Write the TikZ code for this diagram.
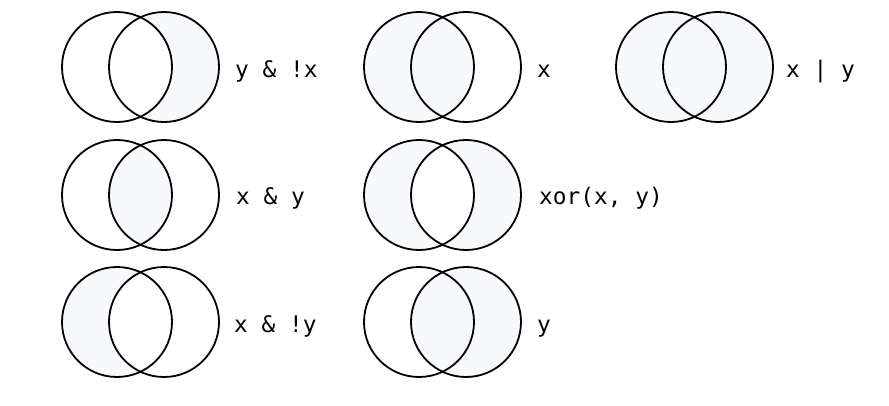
\documentclass[tikz,border=0pt]{standalone}
\usepackage{fontspec}
\newfontfamily\lblfont{DejaVu Sans Mono}
\definecolor{vfill}{RGB}{248,249,252}
\tikzset{
  ring/.style={draw=black, line width=1.8pt},
  lbl/.style={font=\lblfont\fontsize{22.8}{27}\selectfont, anchor=base west, inner sep=0pt},
}
\newcommand\vr{55}
\begin{document}
\begin{tikzpicture}[x=1pt,y=-1pt]
\useasboundingbox (0,0) rectangle (889,405);
% centres
\coordinate (aL) at (117,67);  \coordinate (aR) at (164,67);
\coordinate (bL) at (419,67);  \coordinate (bR) at (466,67);
\coordinate (cL) at (671,67);  \coordinate (cR) at (718,67);
\coordinate (dL) at (117,195); \coordinate (dR) at (164,195);
\coordinate (eL) at (419,195); \coordinate (eR) at (466,195);
\coordinate (fL) at (117,322); \coordinate (fR) at (164,322);
\coordinate (gL) at (419,322); \coordinate (gR) at (466,322);
% y & !x
\fill[vfill] (aR) circle[radius=\vr];
\fill[white] (aL) circle[radius=\vr];
% x
\fill[vfill] (bL) circle[radius=\vr];
% x | y
\fill[vfill] (cL) circle[radius=\vr] (cR) circle[radius=\vr];
% x & y
\begin{scope}
  \clip (dL) circle[radius=\vr];
  \fill[vfill] (dR) circle[radius=\vr];
\end{scope}
% xor
\fill[vfill] (eL) circle[radius=\vr];
\fill[vfill] (eR) circle[radius=\vr];
\begin{scope}
  \clip (eL) circle[radius=\vr];
  \fill[white] (eR) circle[radius=\vr];
\end{scope}
% x & !y
\fill[vfill] (fL) circle[radius=\vr];
\fill[white] (fR) circle[radius=\vr];
% y
\fill[vfill] (gR) circle[radius=\vr];
% outlines
\foreach \p in {a,b,c,d,e,f,g}{
  \draw[ring] (\p L) circle[radius=\vr];
  \draw[ring] (\p R) circle[radius=\vr];
}
% labels
\node[lbl] (ta) at (235,77) {y \& !x};
\node[lbl] (tb) at (537,77) {x};
\node[lbl] (tc) at (786,77) {x | y};
\node[lbl] (td) at (236,204) {x \& y};
\node[lbl] (te) at (539,204) {xor(x, y)};
\node[lbl] (tf) at (234,332) {x \& !y};
\node[lbl] (tg) at (537,332) {y};
\end{tikzpicture}
\end{document}
